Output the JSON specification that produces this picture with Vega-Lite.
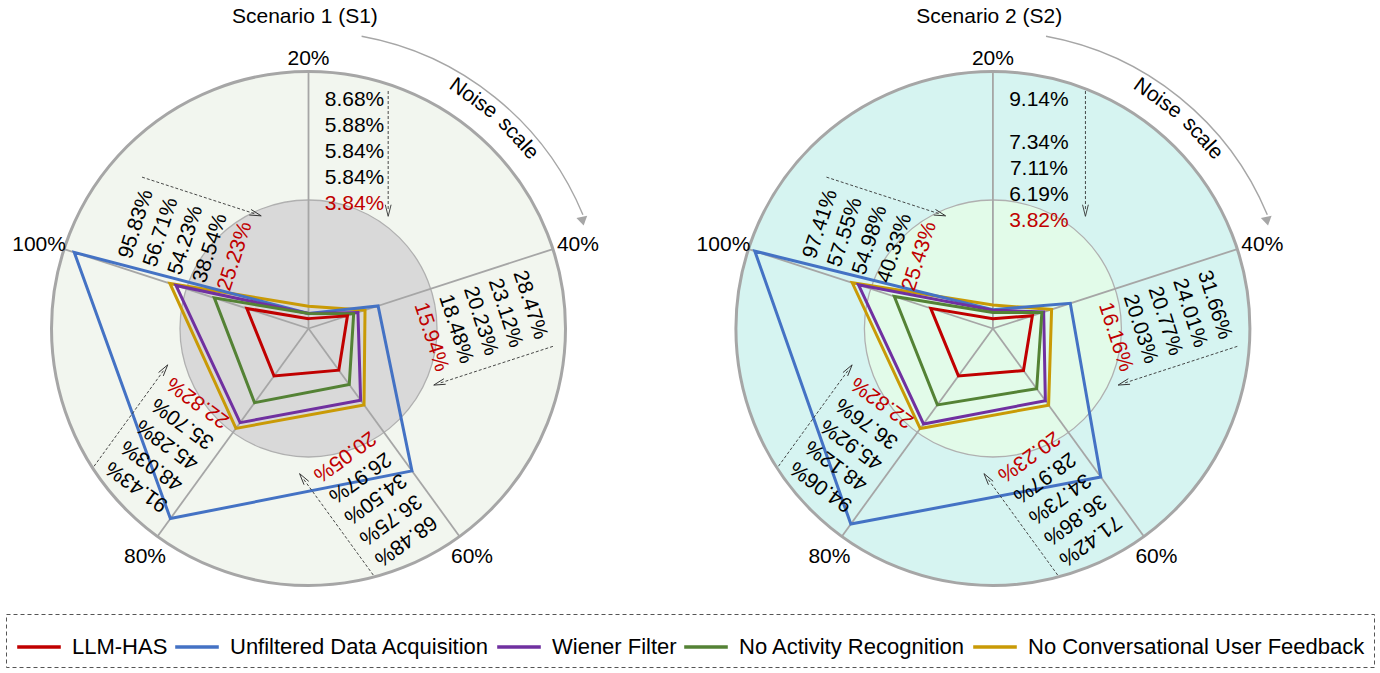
{
  "$schema": "https://vega.github.io/schema/vega-lite/v6.json",
  "width": 1380,
  "height": 673,
  "autosize": {"type": "fit", "contains": "padding"},
  "padding": 0,
  "background": "white",
  "config": {
    "view": {"stroke": null},
    "font": "Liberation Sans",
    "legend": {"strokeDash": [4, 3], "strokeWidth": 1}
  },
  "datasets": {
    "scores": [
      {"panel": "S1", "noise": "20%", "method": "No Conversational User Feedback", "value": 8.68},
      {"panel": "S1", "noise": "20%", "method": "Unfiltered Data Acquisition", "value": 5.88},
      {"panel": "S1", "noise": "20%", "method": "Wiener Filter", "value": 5.84},
      {"panel": "S1", "noise": "20%", "method": "No Activity Recognition", "value": 5.84},
      {"panel": "S1", "noise": "20%", "method": "LLM-HAS", "value": 3.84},
      {"panel": "S1", "noise": "40%", "method": "Unfiltered Data Acquisition", "value": 28.47},
      {"panel": "S1", "noise": "40%", "method": "No Conversational User Feedback", "value": 23.12},
      {"panel": "S1", "noise": "40%", "method": "Wiener Filter", "value": 20.23},
      {"panel": "S1", "noise": "40%", "method": "No Activity Recognition", "value": 18.48},
      {"panel": "S1", "noise": "40%", "method": "LLM-HAS", "value": 15.94},
      {"panel": "S1", "noise": "60%", "method": "Unfiltered Data Acquisition", "value": 68.48},
      {"panel": "S1", "noise": "60%", "method": "No Conversational User Feedback", "value": 36.75},
      {"panel": "S1", "noise": "60%", "method": "Wiener Filter", "value": 34.50},
      {"panel": "S1", "noise": "60%", "method": "No Activity Recognition", "value": 26.97},
      {"panel": "S1", "noise": "60%", "method": "LLM-HAS", "value": 20.05},
      {"panel": "S1", "noise": "80%", "method": "Unfiltered Data Acquisition", "value": 91.43},
      {"panel": "S1", "noise": "80%", "method": "No Conversational User Feedback", "value": 48.03},
      {"panel": "S1", "noise": "80%", "method": "Wiener Filter", "value": 45.28},
      {"panel": "S1", "noise": "80%", "method": "No Activity Recognition", "value": 35.70},
      {"panel": "S1", "noise": "80%", "method": "LLM-HAS", "value": 22.82},
      {"panel": "S1", "noise": "100%", "method": "Unfiltered Data Acquisition", "value": 95.83},
      {"panel": "S1", "noise": "100%", "method": "No Conversational User Feedback", "value": 56.71},
      {"panel": "S1", "noise": "100%", "method": "Wiener Filter", "value": 54.23},
      {"panel": "S1", "noise": "100%", "method": "No Activity Recognition", "value": 38.54},
      {"panel": "S1", "noise": "100%", "method": "LLM-HAS", "value": 25.23},
      {"panel": "S2", "noise": "20%", "method": "No Conversational User Feedback", "value": 9.14},
      {"panel": "S2", "noise": "20%", "method": "Unfiltered Data Acquisition", "value": 7.34},
      {"panel": "S2", "noise": "20%", "method": "Wiener Filter", "value": 7.11},
      {"panel": "S2", "noise": "20%", "method": "No Activity Recognition", "value": 6.19},
      {"panel": "S2", "noise": "20%", "method": "LLM-HAS", "value": 3.82},
      {"panel": "S2", "noise": "40%", "method": "Unfiltered Data Acquisition", "value": 31.66},
      {"panel": "S2", "noise": "40%", "method": "No Conversational User Feedback", "value": 24.01},
      {"panel": "S2", "noise": "40%", "method": "Wiener Filter", "value": 20.77},
      {"panel": "S2", "noise": "40%", "method": "No Activity Recognition", "value": 20.03},
      {"panel": "S2", "noise": "40%", "method": "LLM-HAS", "value": 16.16},
      {"panel": "S2", "noise": "60%", "method": "Unfiltered Data Acquisition", "value": 71.42},
      {"panel": "S2", "noise": "60%", "method": "No Conversational User Feedback", "value": 36.86},
      {"panel": "S2", "noise": "60%", "method": "Wiener Filter", "value": 34.73},
      {"panel": "S2", "noise": "60%", "method": "No Activity Recognition", "value": 28.97},
      {"panel": "S2", "noise": "60%", "method": "LLM-HAS", "value": 20.23},
      {"panel": "S2", "noise": "80%", "method": "Unfiltered Data Acquisition", "value": 94.06},
      {"panel": "S2", "noise": "80%", "method": "No Conversational User Feedback", "value": 48.12},
      {"panel": "S2", "noise": "80%", "method": "Wiener Filter", "value": 45.92},
      {"panel": "S2", "noise": "80%", "method": "No Activity Recognition", "value": 36.76},
      {"panel": "S2", "noise": "80%", "method": "LLM-HAS", "value": 22.82},
      {"panel": "S2", "noise": "100%", "method": "Unfiltered Data Acquisition", "value": 97.41},
      {"panel": "S2", "noise": "100%", "method": "No Conversational User Feedback", "value": 57.55},
      {"panel": "S2", "noise": "100%", "method": "Wiener Filter", "value": 54.98},
      {"panel": "S2", "noise": "100%", "method": "No Activity Recognition", "value": 40.33},
      {"panel": "S2", "noise": "100%", "method": "LLM-HAS", "value": 25.43}
    ],
    "axes": [
      {"panel": "S1", "noise": "20%"}, {"panel": "S1", "noise": "40%"}, {"panel": "S1", "noise": "60%"}, {"panel": "S1", "noise": "80%"}, {"panel": "S1", "noise": "100%"},
      {"panel": "S2", "noise": "20%"}, {"panel": "S2", "noise": "40%"}, {"panel": "S2", "noise": "60%"}, {"panel": "S2", "noise": "80%"}, {"panel": "S2", "noise": "100%"}
    ],
    "panels": [
      {"panel": "S1", "title": "Scenario 1 (S1)"},
      {"panel": "S2", "title": "Scenario 2 (S2)"}
    ]
  },
  "layer": [
    {
      "data": {"name": "panels"},
      "transform": [{"filter": "datum.panel === 'S1'"}, {"calculate": "datum.panel === 'S2' ? 266.3 : 0", "as": "cx"}, {"calculate": "0", "as": "cy"}],
      "mark": {"type": "point", "shape": "circle", "filled": true, "fill": "#f2f6ef", "stroke": "#a6a6a6", "strokeWidth": 3, "size": 264196, "opacity": 1},
      "encoding": {
        "x": {"field": "cx", "type": "quantitative", "scale": {"domain": [-120.04, 416.92], "nice": false, "zero": false}, "axis": null},
        "y": {"field": "cy", "type": "quantitative", "scale": {"domain": [-134.05, 127.82], "nice": false, "zero": false}, "axis": null}
      }
    },
    {
      "data": {"name": "panels"},
      "transform": [{"filter": "datum.panel === 'S2'"}, {"calculate": "datum.panel === 'S2' ? 266.3 : 0", "as": "cx"}, {"calculate": "0", "as": "cy"}],
      "mark": {"type": "point", "shape": "circle", "filled": true, "fill": "#d6f4f1", "stroke": "#a6a6a6", "strokeWidth": 3, "size": 264196, "opacity": 1},
      "encoding": {
        "x": {"field": "cx", "type": "quantitative", "scale": {"domain": [-120.04, 416.92], "nice": false, "zero": false}, "axis": null},
        "y": {"field": "cy", "type": "quantitative", "scale": {"domain": [-134.05, 127.82], "nice": false, "zero": false}, "axis": null}
      }
    },
    {
      "data": {"name": "panels"},
      "transform": [{"filter": "datum.panel === 'S1'"}, {"calculate": "datum.panel === 'S2' ? 266.3 : 0", "as": "cx"}, {"calculate": "0", "as": "cy"}],
      "mark": {"type": "point", "shape": "circle", "filled": true, "fill": "#d9d9d9", "stroke": "#b0b0b0", "strokeWidth": 1.3, "size": 66049, "opacity": 1},
      "encoding": {
        "x": {"field": "cx", "type": "quantitative", "scale": {"domain": [-120.04, 416.92], "nice": false, "zero": false}, "axis": null},
        "y": {"field": "cy", "type": "quantitative", "scale": {"domain": [-134.05, 127.82], "nice": false, "zero": false}, "axis": null}
      }
    },
    {
      "data": {"name": "panels"},
      "transform": [{"filter": "datum.panel === 'S2'"}, {"calculate": "datum.panel === 'S2' ? 266.3 : 0", "as": "cx"}, {"calculate": "0", "as": "cy"}],
      "mark": {"type": "point", "shape": "circle", "filled": true, "fill": "#e2fbe9", "stroke": "#b0b0b0", "strokeWidth": 1.3, "size": 66049, "opacity": 1},
      "encoding": {
        "x": {"field": "cx", "type": "quantitative", "scale": {"domain": [-120.04, 416.92], "nice": false, "zero": false}, "axis": null},
        "y": {"field": "cy", "type": "quantitative", "scale": {"domain": [-134.05, 127.82], "nice": false, "zero": false}, "axis": null}
      }
    },
    {
      "data": {"name": "axes"},
      "transform": [
        {"calculate": "indexof(['20%','40%','60%','80%','100%'], datum.noise)", "as": "k"},
        {"calculate": "datum.k * 2 * PI / 5", "as": "th"},
        {"calculate": "datum.panel === 'S2' ? 266.3 : 0", "as": "cx"},
        {"calculate": "0", "as": "cy"},
        {"calculate": "datum.cx + 100 * sin(datum.th)", "as": "ex"},
        {"calculate": "100 * cos(datum.th)", "as": "ey"}
      ],
      "mark": {"type": "rule", "stroke": "#a6a6a6", "strokeWidth": 1.8},
      "encoding": {
        "x": {"field": "cx", "type": "quantitative", "scale": {"domain": [-120.04, 416.92], "nice": false, "zero": false}, "axis": null},
        "y": {"field": "cy", "type": "quantitative", "scale": {"domain": [-134.05, 127.82], "nice": false, "zero": false}, "axis": null},
        "x2": {"field": "ex"},
        "y2": {"field": "ey"}
      }
    },
    {
      "data": {"name": "axes"},
      "transform": [
        {"calculate": "indexof(['20%','40%','60%','80%','100%'], datum.noise)", "as": "k"},
        {"calculate": "datum.k * 2 * PI / 5", "as": "th"},
        {"calculate": "datum.panel === 'S2' ? 266.3 : 0", "as": "cx"},
        {"calculate": "105 + 5.5 * abs(sin(datum.th))", "as": "rl"},
        {"calculate": "datum.cx + datum.rl * sin(datum.th)", "as": "lx"},
        {"calculate": "datum.rl * cos(datum.th) - (datum.k > 0 ? 1.5 : 0)", "as": "ly"}
      ],
      "mark": {"type": "text", "fontSize": 21, "align": "center", "baseline": "middle", "fill": "black"},
      "encoding": {
        "x": {"field": "lx", "type": "quantitative", "scale": {"domain": [-120.04, 416.92], "nice": false, "zero": false}, "axis": null},
        "y": {"field": "ly", "type": "quantitative", "scale": {"domain": [-134.05, 127.82], "nice": false, "zero": false}, "axis": null},
        "text": {"field": "noise", "type": "nominal"}
      }
    },
    {
      "data": {"name": "scores"},
      "transform": [
        {"calculate": "indexof(['20%','40%','60%','80%','100%'], datum.noise)", "as": "k"},
        {"calculate": "datum.k * 2 * PI / 5", "as": "th"},
        {"calculate": "datum.panel === 'S2' ? 266.3 : 0", "as": "cx"},
        {"calculate": "datum.cx + datum.value * sin(datum.th)", "as": "px"},
        {"calculate": "datum.value * cos(datum.th)", "as": "py"}
      ],
      "mark": {"type": "line", "interpolate": "linear-closed", "strokeWidth": 3},
      "encoding": {
        "x": {"field": "px", "type": "quantitative", "scale": {"domain": [-120.04, 416.92], "nice": false, "zero": false}, "axis": null},
        "y": {"field": "py", "type": "quantitative", "scale": {"domain": [-134.05, 127.82], "nice": false, "zero": false}, "axis": null},
        "color": {
          "field": "method",
          "type": "nominal",
          "scale": {
            "domain": ["LLM-HAS", "Unfiltered Data Acquisition", "Wiener Filter", "No Activity Recognition", "No Conversational User Feedback"],
            "range": ["#c00000", "#4472c4", "#7030a0", "#548235", "#c99a06"]
          },
          "legend": {
            "title": null,
            "orient": "none",
            "legendX": 6,
            "legendY": 614,
            "direction": "horizontal",
            "columns": 5,
            "symbolType": "stroke",
            "symbolSize": 1900,
            "symbolStrokeWidth": 3.5,
            "labelFontSize": 22,
            "labelColor": "black",
            "labelLimit": 600,
            "labelOffset": 9,
            "columnPadding": 0,
            "padding": 9,
            "strokeColor": "#555555"
          }
        },
        "detail": {"field": "panel", "type": "nominal"},
        "order": {"field": "k", "type": "quantitative"}
      }
    },
    {
      "data": {"name": "scores"},
      "transform": [
        {"calculate": "indexof(['20%','40%','60%','80%','100%'], datum.noise)", "as": "k"},
        {"calculate": "datum.k * 2 * PI / 5", "as": "th"},
        {"calculate": "datum.panel === 'S2' ? 266.3 : 0", "as": "cx"},
        {"window": [{"op": "row_number", "as": "rank"}], "groupby": ["panel", "noise"], "sort": [{"field": "value", "order": "descending"}]},
        {"calculate": "datum.noise === '100%' ? 76.3 : datum.noise === '40%' ? 84.8 : 88.9", "as": "ls"},
        {"calculate": "datum.ls - 10.12 * (datum.rank - 1) - (datum.panel === 'S2' && datum.noise === '20%' && datum.rank > 1 ? 6.6 : 0)", "as": "r"},
        {"calculate": "datum.cx + datum.r * sin(datum.th) + 17.9 * cos(datum.th)", "as": "tx"},
        {"calculate": "datum.r * cos(datum.th) - 17.9 * sin(datum.th)", "as": "ty"},
        {"calculate": "datum.k * 72", "as": "deg"},
        {"calculate": "format(datum.value, '.2f') + '%'", "as": "txt"}
      ],
      "mark": {"type": "text", "fontSize": 21, "align": "center", "baseline": "middle"},
      "encoding": {
        "x": {"field": "tx", "type": "quantitative", "scale": {"domain": [-120.04, 416.92], "nice": false, "zero": false}, "axis": null},
        "y": {"field": "ty", "type": "quantitative", "scale": {"domain": [-134.05, 127.82], "nice": false, "zero": false}, "axis": null},
        "text": {"field": "txt", "type": "nominal"},
        "angle": {"field": "deg", "type": "quantitative", "scale": null},
        "fill": {"condition": {"test": "datum.method === 'LLM-HAS'", "value": "#c00000"}, "value": "black"}
      }
    },
    {
      "data": {"name": "axes"},
      "transform": [
        {"calculate": "indexof(['20%','40%','60%','80%','100%'], datum.noise)", "as": "k"},
        {"calculate": "datum.k * 2 * PI / 5", "as": "th"},
        {"calculate": "datum.panel === 'S2' ? 266.3 : 0", "as": "cx"},
        {"calculate": "datum.noise === '100%' ? 76.3 : datum.noise === '40%' ? 84.8 : 88.9", "as": "ls"},
        {"calculate": "datum.noise === '20%' && datum.panel === 'S1' ? 31 : 36", "as": "ua"},
        {"calculate": "datum.ls + 3.5", "as": "rs"},
        {"calculate": "datum.ls - 43", "as": "re"},
        {"calculate": "datum.cx + datum.rs * sin(datum.th) + datum.ua * cos(datum.th)", "as": "ax1"},
        {"calculate": "datum.rs * cos(datum.th) - datum.ua * sin(datum.th)", "as": "ay1"},
        {"calculate": "datum.cx + datum.re * sin(datum.th) + datum.ua * cos(datum.th)", "as": "ax2"},
        {"calculate": "datum.re * cos(datum.th) - datum.ua * sin(datum.th)", "as": "ay2"}
      ],
      "mark": {"type": "rule", "stroke": "#333333", "strokeWidth": 0.9, "strokeDash": [3, 2]},
      "encoding": {
        "x": {"field": "ax1", "type": "quantitative", "scale": {"domain": [-120.04, 416.92], "nice": false, "zero": false}, "axis": null},
        "y": {"field": "ay1", "type": "quantitative", "scale": {"domain": [-134.05, 127.82], "nice": false, "zero": false}, "axis": null},
        "x2": {"field": "ax2"},
        "y2": {"field": "ay2"}
      }
    },
    {
      "data": {"name": "axes"},
      "transform": [
        {"calculate": "indexof(['20%','40%','60%','80%','100%'], datum.noise)", "as": "k"},
        {"calculate": "datum.k * 2 * PI / 5", "as": "th"},
        {"calculate": "datum.panel === 'S2' ? 266.3 : 0", "as": "cx"},
        {"calculate": "datum.noise === '100%' ? 76.3 : datum.noise === '40%' ? 84.8 : 88.9", "as": "ls"},
        {"calculate": "datum.noise === '20%' && datum.panel === 'S1' ? 31 : 36", "as": "ua"},
        {"calculate": "datum.ls - 43", "as": "re"},
        {"calculate": "datum.cx + datum.re * sin(datum.th) + datum.ua * cos(datum.th)", "as": "ax2"},
        {"calculate": "datum.re * cos(datum.th) - datum.ua * sin(datum.th)", "as": "ay2"},
        {"calculate": "datum.k * 72", "as": "deg"}
      ],
      "mark": {"type": "point", "shape": "M -0.5 -1 L 0 1 L 0.5 -1", "filled": false, "stroke": "#333333", "strokeWidth": 0.9, "size": 135, "opacity": 1},
      "encoding": {
        "x": {"field": "ax2", "type": "quantitative", "scale": {"domain": [-120.04, 416.92], "nice": false, "zero": false}, "axis": null},
        "y": {"field": "ay2", "type": "quantitative", "scale": {"domain": [-134.05, 127.82], "nice": false, "zero": false}, "axis": null},
        "angle": {"field": "deg", "type": "quantitative", "scale": null}
      }
    },
    {
      "data": {"name": "panels"},
      "transform": [{"calculate": "datum.panel === 'S2' ? 266.3 : 0", "as": "cx"}, {"calculate": "0", "as": "cy"}],
      "mark": {"type": "point", "shape": "M 0.1788 -0.9839 A 1 1 0 0 1 0.9239 -0.3827", "filled": false, "stroke": "#a6a6a6", "strokeWidth": 1.4, "size": 352836, "opacity": 1},
      "encoding": {
        "x": {"field": "cx", "type": "quantitative", "scale": {"domain": [-120.04, 416.92], "nice": false, "zero": false}, "axis": null},
        "y": {"field": "cy", "type": "quantitative", "scale": {"domain": [-134.05, 127.82], "nice": false, "zero": false}, "axis": null}
      }
    },
    {
      "data": {"name": "panels"},
      "transform": [
        {"calculate": "datum.panel === 'S2' ? 266.3 : 0", "as": "cx"},
        {"calculate": "datum.cx + 106.7", "as": "hx"},
        {"calculate": "41.75", "as": "hy"}
      ],
      "mark": {"type": "point", "shape": "M -1 -0.8 L 1 -0.8 L 0 0.8 Z", "filled": true, "fill": "#a6a6a6", "size": 121, "opacity": 1, "angle": -12},
      "encoding": {
        "x": {"field": "hx", "type": "quantitative", "scale": {"domain": [-120.04, 416.92], "nice": false, "zero": false}, "axis": null},
        "y": {"field": "hy", "type": "quantitative", "scale": {"domain": [-134.05, 127.82], "nice": false, "zero": false}, "axis": null}
      }
    },
    {
      "data": {"name": "panels"},
      "transform": [
        {"calculate": "datum.panel === 'S2' ? 266.3 : 0", "as": "cx"},
        {"calculate": "datum.cx + 64.09", "as": "nx"},
        {"calculate": "89.52", "as": "ny"}
      ],
      "mark": {"type": "text", "text": "Noise", "fontSize": 21, "align": "center", "baseline": "middle", "angle": 35.6, "fill": "black"},
      "encoding": {
        "x": {"field": "nx", "type": "quantitative", "scale": {"domain": [-120.04, 416.92], "nice": false, "zero": false}, "axis": null},
        "y": {"field": "ny", "type": "quantitative", "scale": {"domain": [-134.05, 127.82], "nice": false, "zero": false}, "axis": null}
      }
    },
    {
      "data": {"name": "panels"},
      "transform": [
        {"calculate": "datum.panel === 'S2' ? 266.3 : 0", "as": "cx"},
        {"calculate": "datum.cx + 81.58", "as": "nx"},
        {"calculate": "73.99", "as": "ny"}
      ],
      "mark": {"type": "text", "text": "scale", "fontSize": 21, "align": "center", "baseline": "middle", "angle": 47.8, "fill": "black"},
      "encoding": {
        "x": {"field": "nx", "type": "quantitative", "scale": {"domain": [-120.04, 416.92], "nice": false, "zero": false}, "axis": null},
        "y": {"field": "ny", "type": "quantitative", "scale": {"domain": [-134.05, 127.82], "nice": false, "zero": false}, "axis": null}
      }
    },
    {
      "data": {"name": "panels"},
      "transform": [
        {"calculate": "datum.panel === 'S2' ? 266.3 : 0", "as": "cx"},
        {"calculate": "datum.cx - 1.4", "as": "tx"},
        {"calculate": "121.3", "as": "ty"}
      ],
      "mark": {"type": "text", "fontSize": 21, "align": "center", "baseline": "middle", "fill": "black"},
      "encoding": {
        "x": {"field": "tx", "type": "quantitative", "scale": {"domain": [-120.04, 416.92], "nice": false, "zero": false}, "axis": null},
        "y": {"field": "ty", "type": "quantitative", "scale": {"domain": [-134.05, 127.82], "nice": false, "zero": false}, "axis": null},
        "text": {"field": "title", "type": "nominal"}
      }
    }
  ]
}
